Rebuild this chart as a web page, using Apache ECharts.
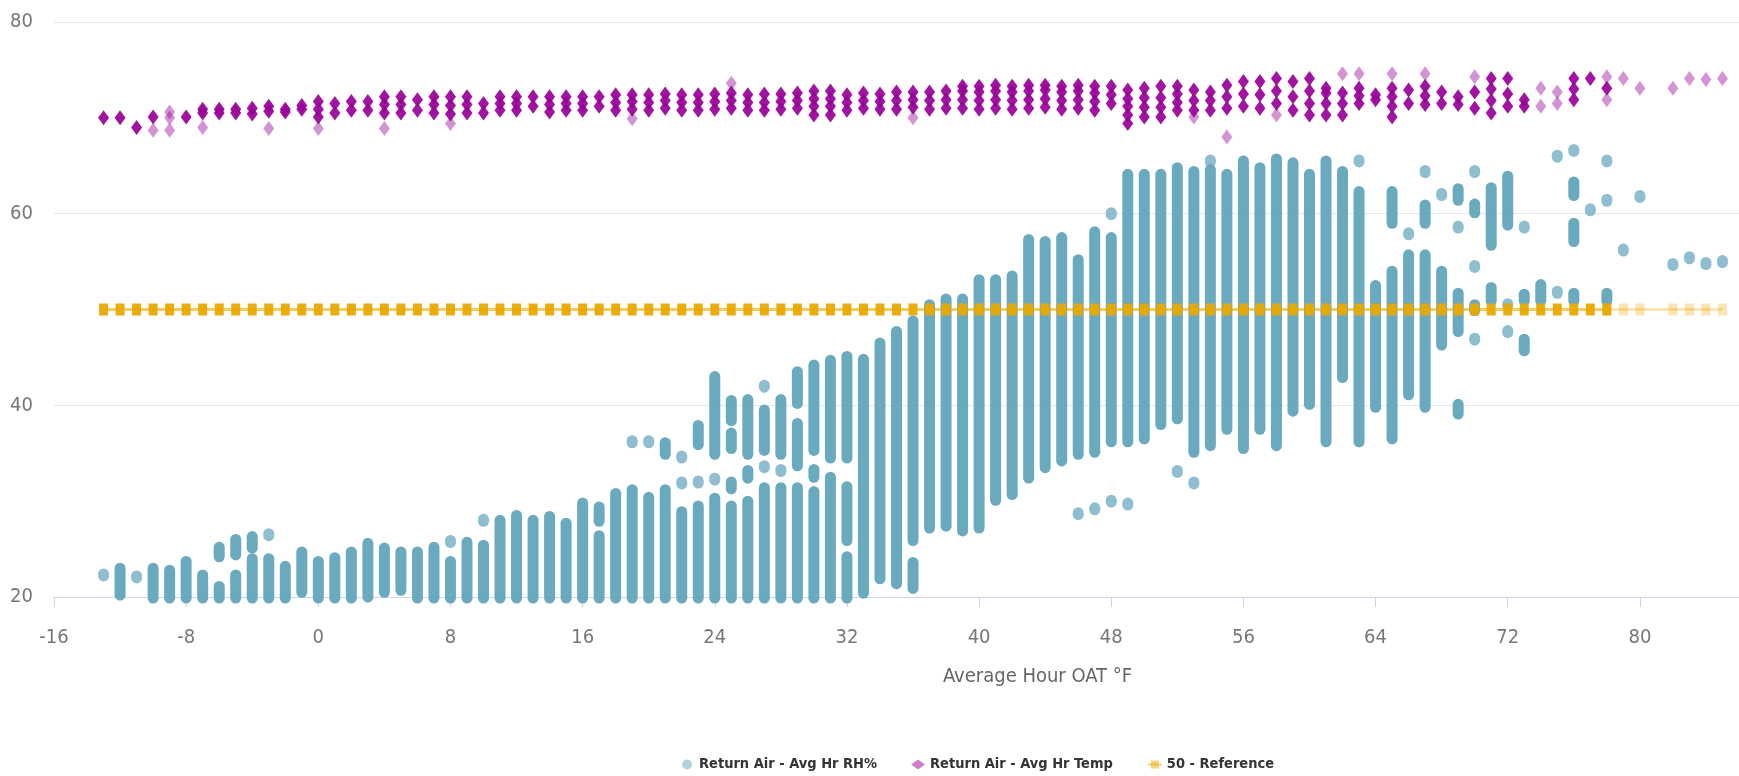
<!DOCTYPE html>
<html>
<head>
<meta charset="utf-8">
<script src="https://cdn.jsdelivr.net/npm/echarts@6/dist/echarts.min.js"></script>
<style>
  html, body { margin: 0; padding: 0; background: #fff; }
  #chart { width: 1739px; height: 776px; }
</style>
</head>
<body>
<div id="chart"></div>
<script>
// RH% readings: each entry is [OAT, lowest RH, highest RH] of a stack of overlapping hourly dots
const rhRuns = [
  [-13, 22.3, 22.3],
  [-12, 20.3, 22.9],
  [-11, 22.1, 22.1],
  [-10, 20, 22.9],
  [-9, 20, 22.7],
  [-8, 20, 23.6],
  [-7, 20, 22.2],
  [-6, 20, 21.0], [-6, 24.3, 25.1],
  [-5, 20, 22.2], [-5, 24.5, 25.9],
  [-4, 20, 23.9], [-4, 25.2, 26.2],
  [-3, 20, 23.9], [-3, 26.5, 26.5],
  [-2, 20, 23.1],
  [-1, 20.6, 24.6],
  [0, 20, 23.6],
  [1, 20, 24.0],
  [2, 20, 24.6],
  [3, 20.1, 25.5],
  [4, 20.6, 25.0],
  [5, 20.8, 24.6],
  [6, 20, 24.6],
  [7, 20, 25.1],
  [8, 20, 23.6], [8, 25.8, 25.8],
  [9, 20, 25.6],
  [10, 20, 25.3], [10, 28.0, 28.0],
  [11, 20, 27.9],
  [12, 20, 28.4],
  [13, 20, 27.9],
  [14, 20, 28.3],
  [15, 20, 27.6],
  [16, 20, 29.7],
  [17, 20, 26.3], [17, 28.0, 29.3],
  [18, 20, 30.7],
  [19, 20, 31.1], [19, 36.2, 36.2],
  [20, 20, 30.3], [20, 36.2, 36.2],
  [21, 20, 31.1], [21, 35.0, 36.0],
  [22, 20, 28.8], [22, 31.9, 31.9], [22, 34.6, 34.6],
  [23, 20, 29.4], [23, 32.0, 32.0], [23, 36.0, 37.8],
  [24, 20, 30.2], [24, 32.3, 32.3], [24, 35.0, 42.9],
  [25, 20, 29.4], [25, 31.4, 31.9], [25, 35.6, 37.0], [25, 38.5, 40.4],
  [26, 20, 29.9], [26, 32.5, 33.1], [26, 35.0, 40.5],
  [27, 20, 31.3], [27, 33.6, 33.6], [27, 35.4, 39.4], [27, 42.0, 42.0],
  [28, 20, 31.3], [28, 33.2, 33.2], [28, 35.0, 40.5],
  [29, 20, 31.3], [29, 33.8, 38.0], [29, 40.3, 43.4],
  [30, 20, 30.9], [30, 32.6, 33.2], [30, 35.4, 44.1],
  [31, 20, 32.4], [31, 34.6, 44.6],
  [32, 20, 24.1], [32, 26.0, 31.4], [32, 34.6, 45.0],
  [33, 20.5, 44.7],
  [34, 22.0, 46.4],
  [35, 21.5, 47.6],
  [36, 21.0, 23.5], [36, 26.0, 48.7],
  [37, 27.3, 50.4],
  [38, 27.5, 51.0],
  [39, 27.0, 51.0],
  [40, 27.3, 53.0],
  [41, 30.2, 53.0],
  [42, 30.8, 53.4],
  [43, 32.5, 57.2],
  [44, 33.6, 57.0],
  [45, 34.3, 57.4],
  [46, 28.7, 28.7], [46, 35.0, 55.1],
  [47, 29.2, 29.2], [47, 35.2, 58.0],
  [48, 30.0, 30.0], [48, 36.3, 57.4], [48, 60.0, 60.0],
  [49, 29.7, 29.7], [49, 36.3, 64.0],
  [50, 36.6, 64.0],
  [51, 38.1, 64.0],
  [52, 33.1, 33.1], [52, 38.7, 64.7],
  [53, 31.9, 31.9], [53, 35.2, 64.3],
  [54, 35.9, 64.5], [54, 65.5, 65.5],
  [55, 37.6, 64.0],
  [56, 35.6, 65.4],
  [57, 37.6, 64.7],
  [58, 35.9, 65.6],
  [59, 39.5, 65.2],
  [60, 40.2, 64.0],
  [61, 36.3, 65.4],
  [62, 43.0, 64.3],
  [63, 36.3, 62.2], [63, 65.5, 65.5],
  [64, 39.9, 52.4],
  [65, 36.6, 53.9], [65, 59.1, 62.2],
  [66, 41.2, 55.6], [66, 57.9, 57.9],
  [67, 39.9, 55.6], [67, 59.1, 60.8], [67, 64.4, 64.4],
  [68, 46.4, 53.9], [68, 62.0, 62.0],
  [69, 39.2, 40.0], [69, 47.8, 51.6], [69, 58.6, 58.6], [69, 61.5, 62.5],
  [70, 46.9, 46.9], [70, 50.0, 50.4], [70, 54.5, 54.5], [70, 60.2, 60.9], [70, 64.4, 64.4],
  [71, 51.0, 52.2], [71, 56.8, 62.6],
  [72, 47.7, 47.7], [72, 50.5, 50.5], [72, 58.9, 63.8],
  [73, 45.8, 46.8], [73, 51.0, 51.5], [73, 58.6, 58.6],
  [74, 51.0, 52.5],
  [75, 51.8, 51.8], [75, 66.0, 66.0],
  [76, 51.0, 51.6], [76, 57.2, 58.9], [76, 62.0, 63.2], [76, 66.6, 66.6],
  [77, 60.4, 60.4],
  [78, 51.0, 51.6], [78, 61.4, 61.4], [78, 65.5, 65.5],
  [79, 56.2, 56.2],
  [80, 61.8, 61.8],
  [82, 54.7, 54.7],
  [83, 55.4, 55.4],
  [84, 54.8, 54.8],
  [85, 55.0, 55.0]
];

// return air temp, hours that pile up (dark) and lone hours (faint)
const tempDense = [
  [-13, 70.0], [-12, 70.0], [-11, 69.0], [-10, 70.1], [-8, 70.1],
  [-7, 70.5], [-7, 70.9], [-6, 70.5], [-6, 70.9], [-5, 70.5], [-5, 70.9],
  [-4, 70.4], [-4, 71.0], [-3, 70.7], [-3, 71.2], [-2, 70.6], [-2, 70.9],
  [-1, 70.9], [-1, 71.3], [0, 70.1], [0, 70.9], [0, 71.7],
  [1, 70.5], [1, 71.5], [2, 70.8], [2, 71.7], [3, 70.8], [3, 71.7],
  [4, 70.5], [4, 71.4], [4, 72.2], [5, 70.5], [5, 71.4], [5, 72.2],
  [6, 70.8], [6, 71.9], [7, 70.5], [7, 71.4], [7, 72.2],
  [8, 70.4], [8, 71.3], [8, 72.2], [9, 70.5], [9, 71.4], [9, 72.2],
  [10, 70.5], [10, 71.5], [11, 70.8], [11, 71.5], [11, 72.2],
  [12, 70.8], [12, 71.5], [12, 72.2], [13, 71.2], [13, 72.2],
  [14, 70.6], [14, 71.4], [14, 72.2], [15, 70.8], [15, 71.5], [15, 72.2],
  [16, 70.8], [16, 71.5], [16, 72.2], [17, 71.2], [17, 72.2],
  [18, 70.8], [18, 71.6], [18, 72.4], [19, 70.9], [19, 71.7], [19, 72.4],
  [20, 70.8], [20, 71.6], [20, 72.4], [21, 71.0], [21, 71.8], [21, 72.5],
  [22, 70.8], [22, 71.6], [22, 72.4], [23, 70.8], [23, 71.6], [23, 72.4],
  [24, 70.9], [24, 71.7], [24, 72.5], [25, 71.0], [25, 71.8], [25, 72.6],
  [26, 70.8], [26, 71.6], [26, 72.4], [27, 70.8], [27, 71.6], [27, 72.5],
  [28, 70.9], [28, 71.7], [28, 72.5], [29, 71.0], [29, 71.8], [29, 72.6],
  [30, 70.3], [30, 71.2], [30, 72.0], [30, 72.8],
  [31, 70.3], [31, 71.2], [31, 72.0], [31, 72.8],
  [32, 70.8], [32, 71.6], [32, 72.4], [33, 71.0], [33, 71.8], [33, 72.6],
  [34, 70.9], [34, 71.7], [34, 72.5], [35, 70.9], [35, 71.8], [35, 72.7],
  [36, 71.1], [36, 71.9], [36, 72.7], [37, 70.9], [37, 71.8], [37, 72.7],
  [38, 71.0], [38, 71.9], [38, 72.8],
  [39, 71.0], [39, 71.9], [39, 72.8], [39, 73.3],
  [40, 70.9], [40, 71.8], [40, 72.7], [40, 73.3],
  [41, 71.0], [41, 71.9], [41, 72.8], [41, 73.4],
  [42, 70.9], [42, 71.8], [42, 72.7], [42, 73.3],
  [43, 71.0], [43, 71.9], [43, 72.8], [43, 73.4],
  [44, 71.1], [44, 72.0], [44, 72.9], [44, 73.4],
  [45, 70.9], [45, 71.8], [45, 72.7], [45, 73.3],
  [46, 71.0], [46, 71.9], [46, 72.8], [46, 73.4],
  [47, 70.8], [47, 71.7], [47, 72.6], [47, 73.3],
  [48, 71.5], [48, 72.4], [48, 73.3],
  [49, 69.4], [49, 70.3], [49, 71.2], [49, 72.0], [49, 72.9],
  [50, 70.1], [50, 71.1], [50, 72.1], [50, 73.1],
  [51, 70.1], [51, 71.1], [51, 72.1], [51, 73.3],
  [52, 70.8], [52, 71.6], [52, 72.5], [52, 73.3],
  [53, 70.8], [53, 71.8], [53, 72.9],
  [54, 70.8], [54, 71.8], [54, 72.7],
  [55, 71.0], [55, 72.2], [55, 73.4],
  [56, 71.2], [56, 72.5], [56, 73.8],
  [57, 71.0], [57, 72.4], [57, 73.8],
  [58, 71.5], [58, 72.8], [58, 74.1],
  [59, 70.8], [59, 72.2], [59, 73.8],
  [60, 70.3], [60, 71.5], [60, 72.8], [60, 74.1],
  [61, 70.3], [61, 71.5], [61, 72.6], [61, 73.1],
  [62, 70.3], [62, 71.5], [62, 72.6],
  [63, 71.5], [63, 72.3], [63, 73.1],
  [64, 71.9], [64, 72.4],
  [65, 70.1], [65, 71.2], [65, 72.2], [65, 73.1],
  [66, 71.5], [66, 72.9],
  [67, 71.4], [67, 72.3], [67, 73.3],
  [68, 71.5], [68, 72.7],
  [69, 71.4], [69, 72.2],
  [70, 71.0], [70, 72.7],
  [71, 70.5], [71, 71.8], [71, 73.0], [71, 74.1],
  [72, 71.2], [72, 72.5], [72, 74.1],
  [73, 71.2], [73, 71.9],
  [76, 71.9], [76, 73.0], [76, 74.1],
  [77, 74.1],
  [78, 73.1]
];

const tempSparse = [
  [-10, 68.7], [-9, 70.6], [-9, 70.0], [-9, 68.7], [-7, 69.0], [-3, 68.9],
  [0, 68.9], [4, 68.9], [8, 69.4], [19, 69.9], [25, 73.6], [36, 70.0],
  [53, 70.1], [55, 68.0], [58, 70.3], [62, 74.6], [63, 74.6], [65, 74.6],
  [67, 74.6], [70, 74.3], [74, 73.1], [74, 71.2], [75, 71.5], [75, 72.7],
  [78, 74.3], [78, 71.9], [79, 74.1], [80, 73.1], [82, 73.1], [83, 74.1],
  [84, 74.0], [85, 74.1]
];

// 50% reference, one marker per OAT bin
const refValue = 50;
const refX = [
  -13, -12, -11, -10, -9, -8, -7, -6, -5, -4, -3, -2, -1, 0, 1, 2, 3, 4, 5, 6,
  7, 8, 9, 10, 11, 12, 13, 14, 15, 16, 17, 18, 19, 20, 21, 22, 23, 24, 25, 26,
  27, 28, 29, 30, 31, 32, 33, 34, 35, 36, 37, 38, 39, 40, 41, 42, 43, 44, 45, 46,
  47, 48, 49, 50, 51, 52, 53, 54, 55, 56, 57, 58, 59, 60, 61, 62, 63, 64, 65, 66,
  67, 68, 69, 70, 71, 72, 73, 74, 75, 76, 77, 78
];
const refFaintX = [79, 80, 82, 83, 84, 85];

const xTicks = { min: -16, max: 86, interval: 8 };
const yTicks = { min: 20, max: 80, interval: 20 };

const RH_NAME = 'Return Air - Avg Hr RH%';
const TEMP_NAME = 'Return Air - Avg Hr Temp';
const REF_NAME = '50 - Reference';

const RH_COLOR = '#62a5bc';
const TEMP_COLOR = '#990099';
const REF_COLOR = '#e8aa00';
const FONT = "'Liberation Sans Narrow', 'DejaVu Sans Condensed', sans-serif";

const chart = echarts.init(document.getElementById('chart'));

const refLine = refX.map(x => [x, refValue]);
const refFaint = [refX[refX.length - 1], ...refFaintX].map(x => [x, refValue]);

const option = {
  animation: false,
  grid: { left: 54, right: 0, top: 22, bottom: 179 },
  legend: {
    left: 677,
    top: 752,
    itemGap: 34,
    itemWidth: 14,
    itemHeight: 10,
    itemStyle: { opacity: 0.5 },
    lineStyle: { opacity: 0.5 },
    textStyle: { color: '#333', fontSize: 14.5, fontWeight: 'bold', fontFamily: FONT },
    data: [
      { name: RH_NAME, icon: 'circle' },
      { name: TEMP_NAME, icon: 'diamond' },
      { name: REF_NAME }
    ]
  },
  xAxis: {
    type: 'value',
    min: xTicks.min,
    max: xTicks.max,
    interval: xTicks.interval,
    name: 'Average Hour OAT °F',
    nameLocation: 'middle',
    nameGap: 70,
    nameTextStyle: { color: '#666', fontSize: 20, fontFamily: FONT, padding: [0, 0, 0, 282] },
    axisLine: { lineStyle: { color: '#ccd6eb' } },
    axisTick: { show: true, length: 10, lineStyle: { color: '#ccd6eb' } },
    axisLabel: { color: '#777', fontSize: 20, fontFamily: FONT, margin: 31, showMaxLabel: false },
    splitLine: { show: false }
  },
  yAxis: {
    type: 'value',
    min: yTicks.min,
    max: yTicks.max,
    interval: yTicks.interval,
    axisLine: { show: false },
    axisTick: { show: false },
    axisLabel: { color: '#777', fontSize: 20, fontFamily: FONT, margin: 21 },
    splitLine: { lineStyle: { color: '#e6e6e6' } }
  },
  series: [
    {
      name: RH_NAME,
      type: 'custom',
      clip: false,
      itemStyle: { color: RH_COLOR },
      encode: { x: 0, y: [1, 2] },
      data: rhRuns,
      renderItem: (params, api) => {
        const x = api.value(0);
        const lo = api.value(1);
        const hi = api.value(2);
        const top = api.coord([x, hi]);
        const bot = api.coord([x, lo]);
        const w = 11, h = 13;
        return {
          type: 'rect',
          shape: { x: top[0] - w / 2, y: top[1] - h / 2, width: w, height: bot[1] - top[1] + h, r: w / 2 },
          style: { fill: RH_COLOR, opacity: lo === hi ? 0.72 : 0.95 }
        };
      }
    },
    {
      name: TEMP_NAME,
      type: 'scatter',
      symbol: 'diamond',
      symbolSize: [11, 15],
      itemStyle: { color: TEMP_COLOR, opacity: 0.92 },
      data: tempDense
    },
    {
      name: TEMP_NAME,
      type: 'scatter',
      symbol: 'diamond',
      symbolSize: [11, 15],
      itemStyle: { color: TEMP_COLOR, opacity: 0.42 },
      data: tempSparse
    },
    {
      name: REF_NAME,
      type: 'line',
      symbol: 'rect',
      symbolSize: [9, 12],
      showAllSymbol: true,
      itemStyle: { color: REF_COLOR, opacity: 0.3 },
      lineStyle: { color: REF_COLOR, width: 3, opacity: 0.3 },
      data: refFaint
    },
    {
      name: REF_NAME,
      type: 'line',
      symbol: 'rect',
      symbolSize: [9, 12],
      showAllSymbol: true,
      itemStyle: { color: REF_COLOR, opacity: 0.95 },
      lineStyle: { color: REF_COLOR, width: 3, opacity: 0.6 },
      data: refLine
    }
  ]
};

chart.setOption(option);
window.addEventListener('resize', () => chart.resize());
</script>
</body>
</html>
